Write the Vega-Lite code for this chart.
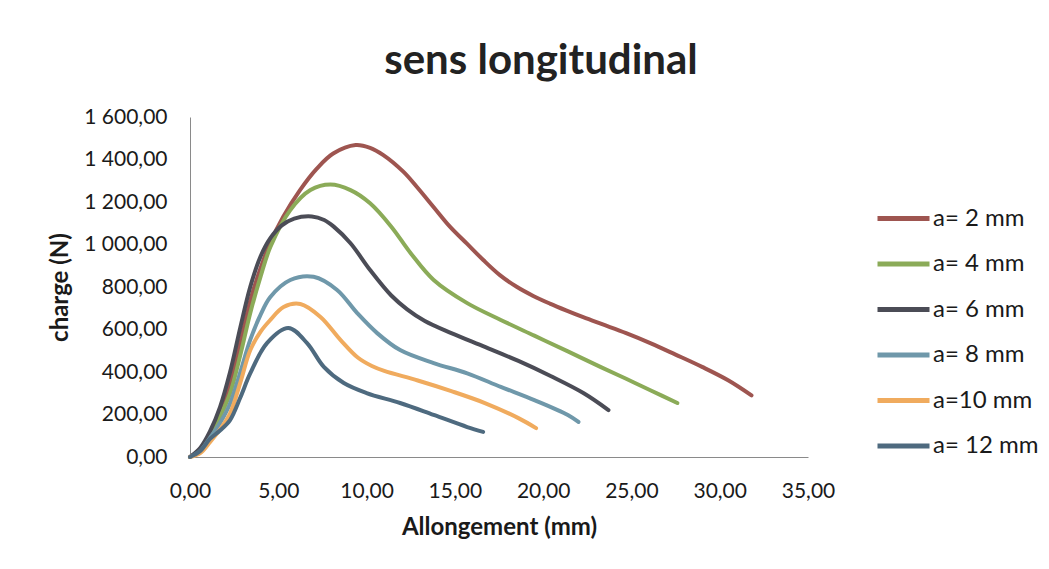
{
  "$schema": "https://vega.github.io/schema/vega-lite/v6.json",
  "autosize": {"type": "none"},
  "padding": {"left": 190, "top": 117, "right": 241, "bottom": 112},
  "width": 618,
  "height": 340,
  "background": "white",
  "title": {
    "text": "sens longitudinal",
    "font": "Lato",
    "fontSize": 42,
    "fontWeight": "bold",
    "color": "#222222",
    "anchor": "middle",
    "frame": "group",
    "dx": 42,
    "baseline": "alphabetic",
    "offset": -10
  },
  "data": {
    "values": [
      {"serie": "a= 2 mm", "x": 0, "y": 0},
      {"serie": "a= 2 mm", "x": 0.6, "y": 40},
      {"serie": "a= 2 mm", "x": 1.13, "y": 110},
      {"serie": "a= 2 mm", "x": 1.7, "y": 210},
      {"serie": "a= 2 mm", "x": 2.27, "y": 350},
      {"serie": "a= 2 mm", "x": 2.85, "y": 540},
      {"serie": "a= 2 mm", "x": 3.41, "y": 735},
      {"serie": "a= 2 mm", "x": 3.96, "y": 880},
      {"serie": "a= 2 mm", "x": 4.53, "y": 1006},
      {"serie": "a= 2 mm", "x": 5.28, "y": 1131},
      {"serie": "a= 2 mm", "x": 6.23, "y": 1256},
      {"serie": "a= 2 mm", "x": 7.17, "y": 1356},
      {"serie": "a= 2 mm", "x": 8.11, "y": 1428},
      {"serie": "a= 2 mm", "x": 9.38, "y": 1468},
      {"serie": "a= 2 mm", "x": 10.2, "y": 1455},
      {"serie": "a= 2 mm", "x": 10.95, "y": 1421},
      {"serie": "a= 2 mm", "x": 12.08, "y": 1343},
      {"serie": "a= 2 mm", "x": 12.84, "y": 1272},
      {"serie": "a= 2 mm", "x": 13.78, "y": 1178},
      {"serie": "a= 2 mm", "x": 14.72, "y": 1084},
      {"serie": "a= 2 mm", "x": 15.67, "y": 1005},
      {"serie": "a= 2 mm", "x": 16.61, "y": 927},
      {"serie": "a= 2 mm", "x": 17.55, "y": 856},
      {"serie": "a= 2 mm", "x": 18.5, "y": 801},
      {"serie": "a= 2 mm", "x": 19.44, "y": 758},
      {"serie": "a= 2 mm", "x": 20.38, "y": 722},
      {"serie": "a= 2 mm", "x": 21.33, "y": 689},
      {"serie": "a= 2 mm", "x": 22.27, "y": 658},
      {"serie": "a= 2 mm", "x": 23.3, "y": 626},
      {"serie": "a= 2 mm", "x": 24.7, "y": 583},
      {"serie": "a= 2 mm", "x": 26.1, "y": 535},
      {"serie": "a= 2 mm", "x": 27.5, "y": 482},
      {"serie": "a= 2 mm", "x": 29.0, "y": 424},
      {"serie": "a= 2 mm", "x": 30.5, "y": 360},
      {"serie": "a= 2 mm", "x": 31.8, "y": 290},

      {"serie": "a= 4 mm", "x": 0, "y": 0},
      {"serie": "a= 4 mm", "x": 0.6, "y": 30},
      {"serie": "a= 4 mm", "x": 1.13, "y": 100},
      {"serie": "a= 4 mm", "x": 1.7, "y": 190},
      {"serie": "a= 4 mm", "x": 2.27, "y": 300},
      {"serie": "a= 4 mm", "x": 2.85, "y": 480},
      {"serie": "a= 4 mm", "x": 3.41, "y": 677},
      {"serie": "a= 4 mm", "x": 4.0, "y": 850},
      {"serie": "a= 4 mm", "x": 4.55, "y": 988},
      {"serie": "a= 4 mm", "x": 5.68, "y": 1162},
      {"serie": "a= 4 mm", "x": 6.82, "y": 1256},
      {"serie": "a= 4 mm", "x": 7.95, "y": 1282},
      {"serie": "a= 4 mm", "x": 9.09, "y": 1256},
      {"serie": "a= 4 mm", "x": 10.2, "y": 1194},
      {"serie": "a= 4 mm", "x": 11.4, "y": 1084},
      {"serie": "a= 4 mm", "x": 12.5, "y": 959},
      {"serie": "a= 4 mm", "x": 13.8, "y": 833},
      {"serie": "a= 4 mm", "x": 15.7, "y": 724},
      {"serie": "a= 4 mm", "x": 17.6, "y": 645},
      {"serie": "a= 4 mm", "x": 19.5, "y": 571},
      {"serie": "a= 4 mm", "x": 21.4, "y": 497},
      {"serie": "a= 4 mm", "x": 23.3, "y": 422},
      {"serie": "a= 4 mm", "x": 24.7, "y": 368},
      {"serie": "a= 4 mm", "x": 26.1, "y": 313},
      {"serie": "a= 4 mm", "x": 27.6, "y": 254},

      {"serie": "a= 6 mm", "x": 0, "y": 0},
      {"serie": "a= 6 mm", "x": 0.6, "y": 45},
      {"serie": "a= 6 mm", "x": 1.13, "y": 120},
      {"serie": "a= 6 mm", "x": 1.7, "y": 235},
      {"serie": "a= 6 mm", "x": 2.27, "y": 400},
      {"serie": "a= 6 mm", "x": 2.85, "y": 610},
      {"serie": "a= 6 mm", "x": 3.41, "y": 800},
      {"serie": "a= 6 mm", "x": 4.0, "y": 945},
      {"serie": "a= 6 mm", "x": 4.55, "y": 1030},
      {"serie": "a= 6 mm", "x": 5.2, "y": 1090},
      {"serie": "a= 6 mm", "x": 5.9, "y": 1122},
      {"serie": "a= 6 mm", "x": 6.9, "y": 1132},
      {"serie": "a= 6 mm", "x": 7.6, "y": 1115},
      {"serie": "a= 6 mm", "x": 8.14, "y": 1084},
      {"serie": "a= 6 mm", "x": 9.09, "y": 1006},
      {"serie": "a= 6 mm", "x": 10.2, "y": 880},
      {"serie": "a= 6 mm", "x": 11.4, "y": 760},
      {"serie": "a= 6 mm", "x": 12.3, "y": 695},
      {"serie": "a= 6 mm", "x": 13.3, "y": 640},
      {"serie": "a= 6 mm", "x": 14.8, "y": 583},
      {"serie": "a= 6 mm", "x": 16.7, "y": 518},
      {"serie": "a= 6 mm", "x": 18.6, "y": 452},
      {"serie": "a= 6 mm", "x": 20.45, "y": 380},
      {"serie": "a= 6 mm", "x": 22.3, "y": 300},
      {"serie": "a= 6 mm", "x": 23.7, "y": 221},

      {"serie": "a= 8 mm", "x": 0, "y": 0},
      {"serie": "a= 8 mm", "x": 0.6, "y": 30},
      {"serie": "a= 8 mm", "x": 1.13, "y": 90},
      {"serie": "a= 8 mm", "x": 1.7, "y": 160},
      {"serie": "a= 8 mm", "x": 2.27, "y": 252},
      {"serie": "a= 8 mm", "x": 2.85, "y": 400},
      {"serie": "a= 8 mm", "x": 3.41, "y": 551},
      {"serie": "a= 8 mm", "x": 4.0, "y": 670},
      {"serie": "a= 8 mm", "x": 4.55, "y": 753},
      {"serie": "a= 8 mm", "x": 5.68, "y": 833},
      {"serie": "a= 8 mm", "x": 7.0, "y": 848},
      {"serie": "a= 8 mm", "x": 8.33, "y": 786},
      {"serie": "a= 8 mm", "x": 9.47, "y": 677},
      {"serie": "a= 8 mm", "x": 10.6, "y": 583},
      {"serie": "a= 8 mm", "x": 11.9, "y": 503},
      {"serie": "a= 8 mm", "x": 13.8, "y": 442},
      {"serie": "a= 8 mm", "x": 15.7, "y": 394},
      {"serie": "a= 8 mm", "x": 17.6, "y": 330},
      {"serie": "a= 8 mm", "x": 19.5, "y": 268},
      {"serie": "a= 8 mm", "x": 21.4, "y": 198},
      {"serie": "a= 8 mm", "x": 22.0, "y": 165},

      {"serie": "a=10 mm", "x": 0, "y": 0},
      {"serie": "a=10 mm", "x": 0.6, "y": 20},
      {"serie": "a=10 mm", "x": 1.13, "y": 70},
      {"serie": "a=10 mm", "x": 1.7, "y": 130},
      {"serie": "a=10 mm", "x": 2.27, "y": 205},
      {"serie": "a=10 mm", "x": 2.85, "y": 350},
      {"serie": "a=10 mm", "x": 3.41, "y": 502},
      {"serie": "a=10 mm", "x": 4.0, "y": 590},
      {"serie": "a=10 mm", "x": 4.55, "y": 645},
      {"serie": "a=10 mm", "x": 5.3, "y": 706},
      {"serie": "a=10 mm", "x": 6.25, "y": 720},
      {"serie": "a=10 mm", "x": 7.39, "y": 659},
      {"serie": "a=10 mm", "x": 8.52, "y": 551},
      {"serie": "a=10 mm", "x": 9.5, "y": 468},
      {"serie": "a=10 mm", "x": 10.3, "y": 428},
      {"serie": "a=10 mm", "x": 11.0, "y": 405},
      {"serie": "a=10 mm", "x": 12.9, "y": 360},
      {"serie": "a=10 mm", "x": 14.8, "y": 310},
      {"serie": "a=10 mm", "x": 16.7, "y": 254},
      {"serie": "a=10 mm", "x": 18.6, "y": 183},
      {"serie": "a=10 mm", "x": 19.6, "y": 136},

      {"serie": "a= 12 mm", "x": 0, "y": 0},
      {"serie": "a= 12 mm", "x": 0.6, "y": 30},
      {"serie": "a= 12 mm", "x": 1.13, "y": 85},
      {"serie": "a= 12 mm", "x": 1.7, "y": 125},
      {"serie": "a= 12 mm", "x": 2.27, "y": 174},
      {"serie": "a= 12 mm", "x": 2.85, "y": 280},
      {"serie": "a= 12 mm", "x": 3.41, "y": 393},
      {"serie": "a= 12 mm", "x": 4.36, "y": 536},
      {"serie": "a= 12 mm", "x": 5.57, "y": 607},
      {"serie": "a= 12 mm", "x": 6.63, "y": 536},
      {"serie": "a= 12 mm", "x": 7.58, "y": 424},
      {"serie": "a= 12 mm", "x": 8.71, "y": 348},
      {"serie": "a= 12 mm", "x": 10.0, "y": 301},
      {"serie": "a= 12 mm", "x": 11.9, "y": 254},
      {"serie": "a= 12 mm", "x": 13.8, "y": 198},
      {"serie": "a= 12 mm", "x": 15.7, "y": 141},
      {"serie": "a= 12 mm", "x": 16.6, "y": 118}
    ]
  },
  "mark": {"type": "line", "strokeWidth": 4, "interpolate": "catmull-rom", "strokeCap": "round"},
  "encoding": {
    "x": {
      "field": "x",
      "type": "quantitative",
      "scale": {"domain": [0, 35], "nice": false},
      "axis": {
        "title": "Allongement (mm)",
        "values": [0, 5, 10, 15, 20, 25, 30, 35],
        "format": ".2f",
        "labelPadding": 23,
        "titlePadding": 14
      }
    },
    "y": {
      "field": "y",
      "type": "quantitative",
      "scale": {"domain": [0, 1600], "nice": false},
      "axis": {
        "title": "charge (N)",
        "values": [0, 200, 400, 600, 800, 1000, 1200, 1400, 1600],
        "format": ",.2f",
        "labelPadding": 23,
        "titlePadding": 11
      }
    },
    "color": {
      "field": "serie",
      "type": "nominal",
      "scale": {
        "domain": ["a= 2 mm", "a= 4 mm", "a= 6 mm", "a= 8 mm", "a=10 mm", "a= 12 mm"],
        "range": ["#9e5550", "#8bab58", "#4b4c56", "#6f98aa", "#f0ab5e", "#4e6a7f"]
      },
      "legend": {
        "title": null,
        "orient": "none",
        "legendX": 685,
        "legendY": 73,
        "symbolType": "stroke",
        "symbolSize": 2704,
        "symbolStrokeWidth": 5,
        "labelFont": "Lato",
        "labelFontSize": 24,
        "labelColor": "#1a1a1a",
        "labelOffset": 1,
        "rowPadding": 4.5
      }
    }
  },
  "config": {
    "locale": {
      "number": {"decimal": ",", "thousands": " ", "grouping": [3], "currency": ["", " €"]}
    },
    "view": {"stroke": null},
    "axis": {
      "grid": false,
      "ticks": false,
      "domainColor": "#8a8a8a",
      "domainWidth": 1,
      "labelFont": "Lato",
      "labelFontSize": 21,
      "labelColor": "#1a1a1a",
      "labelFlush": false,
      "titleFont": "Lato",
      "titleFontSize": 24,
      "titleFontWeight": "bold",
      "titleColor": "#1a1a1a"
    }
  }
}
